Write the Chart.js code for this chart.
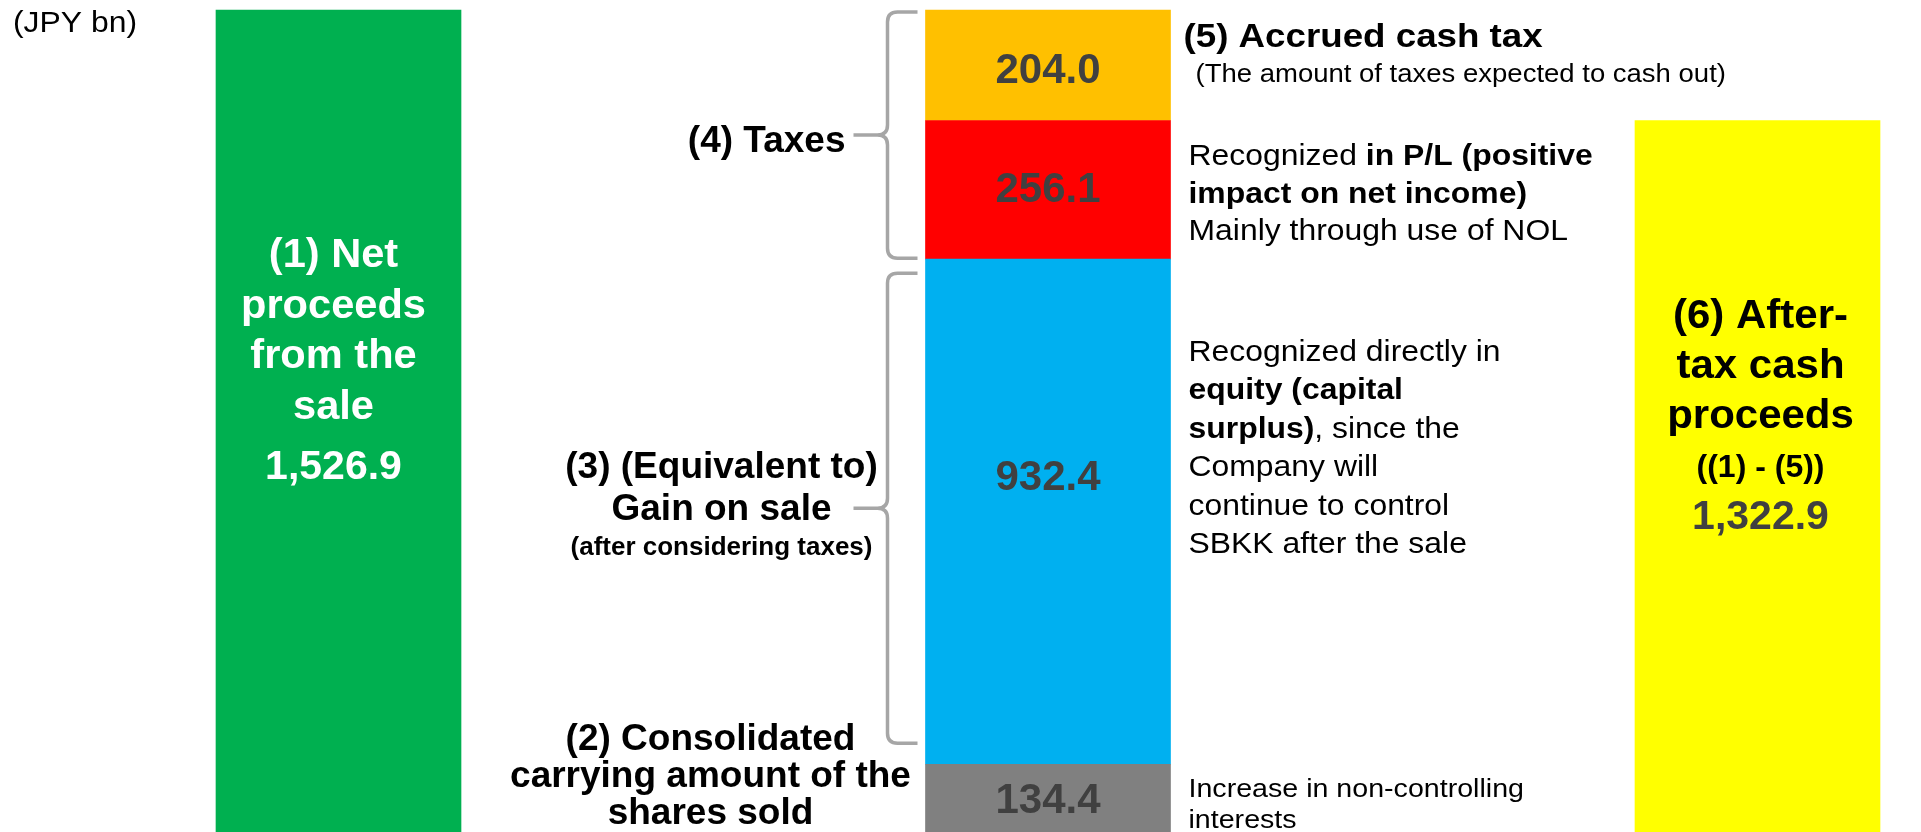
<!DOCTYPE html>
<html lang="en">
<head>
<meta charset="UTF-8">
<title>Net proceeds from the sale and after-tax cash proceeds</title>
<script src="https://cdn.jsdelivr.net/npm/chart.js@4"></script>
<style>
  html, body { margin: 0; padding: 0; background: #fff; overflow: hidden; }
  #wrap { width: 1921px; height: 837px; }
</style>
</head>
<body>
<div id="wrap"><canvas id="chart" width="1921" height="837"></canvas></div>
<script>
// ---------- Data (JPY bn) ----------

const CATEGORIES       = ['Net proceeds', 'Breakdown', 'After-tax cash proceeds'];
const NET_PROCEEDS     = [1526.9, null, null];
const CARRYING_AMOUNT  = [null, 134.4, null];
const GAIN_ON_SALE     = [null, 932.4, null];
const TAX_IN_PL        = [null, 256.1, null];
const ACCRUED_CASH_TAX = [null, 204.0, null];
const AFTER_TAX_CASH   = [null, null, 1322.9];
const UNIT_LABEL = '(JPY bn)';

const COLORS = {
  net:      '#00B050',
  carrying: '#808080',
  gain:     '#00B0F0',
  taxPL:    '#FF0000',
  cashTax:  '#FFC000',
  afterTax: '#FFFF00',
};

const FONT = '"Liberation Sans", Arial, sans-serif';
const DARK = '#404040';
const BRACE = '#A6A6A6';

// ---------- Drawing helpers ----------

function text(ctx, str, x, y, o = {}) {
  ctx.save();
  ctx.translate(x, y);
  ctx.scale(o.sx ?? 1, 1);
  ctx.font = `${o.bold ? 'bold ' : ''}${o.size ?? 29}px ${FONT}`;
  ctx.fillStyle = o.color ?? '#000';
  ctx.textAlign = o.align ?? 'left';
  ctx.textBaseline = 'alphabetic';
  ctx.fillText(str, 0, 0);
  ctx.restore();
}

// runs: [[text, bold], ...] drawn left to right
function richLine(ctx, runs, x, y, size, sx) {
  let cx = x;
  for (const [str, bold] of runs) {
    ctx.font = `${bold ? 'bold ' : ''}${size}px ${FONT}`;
    const w = ctx.measureText(str).width;
    text(ctx, str, cx, y, { size, bold, sx });
    cx += w * sx;
  }
}

function brace(ctx, xArm, xTip, top, bottom) {
  const xv = xArm - 30, mid = (top + bottom) / 2, r = 10;
  ctx.save();
  ctx.strokeStyle = BRACE;
  ctx.lineWidth = 3.5;
  ctx.lineJoin = 'round';
  ctx.beginPath();
  ctx.moveTo(xArm, top);
  ctx.lineTo(xv + r, top);
  ctx.quadraticCurveTo(xv, top, xv, top + r);
  ctx.lineTo(xv, mid - r);
  ctx.quadraticCurveTo(xv, mid, xv - r, mid);
  ctx.lineTo(xTip, mid);
  ctx.moveTo(xv - r, mid);
  ctx.quadraticCurveTo(xv, mid, xv, mid + r);
  ctx.lineTo(xv, bottom - r);
  ctx.quadraticCurveTo(xv, bottom, xv + r, bottom);
  ctx.lineTo(xArm, bottom);
  ctx.stroke();
  ctx.restore();
}

const fmt = v => v.toLocaleString('en-US', { minimumFractionDigits: 1, maximumFractionDigits: 1 });

// ---------- Annotation plugin ----------

const annotations = {
  id: 'annotations',
  afterDraw(chart) {
    const ctx = chart.ctx;
    const bar = (ds, i) => chart.getDatasetMeta(ds).data[i].getProps(['x', 'y', 'base', 'width'], true);
    const green = bar(0, 0), gray = bar(1, 1), blue = bar(2, 1), red = bar(3, 1), orange = bar(4, 1), yellow = bar(5, 2);
    const midL = gray.x - gray.width / 2, midR = gray.x + gray.width / 2;
    const centre = b => (b.y + b.base) / 2;

    text(ctx, UNIT_LABEL, 13, 32, { size: 29, sx: 1.1 });

    // values inside the middle stack
    const valueLabel = (b, v, dy) => text(ctx, fmt(v), b.x, centre(b) + dy, { size: 42, bold: true, color: DARK, align: 'center' });
    valueLabel(orange, ACCRUED_CASH_TAX[1], 17.5);
    valueLabel(red, TAX_IN_PL[1], 12);
    valueLabel(blue, GAIN_ON_SALE[1], -21.5);
    valueLabel(gray, CARRYING_AMOUNT[1], 12.5);

    // (1) green bar
    const gx = green.x - 5;
    ['(1) Net', 'proceeds', 'from the', 'sale'].forEach((s, i) =>
      text(ctx, s, gx, green.y + 257 + i * 50.5, { size: 40, bold: true, color: '#fff', align: 'center', sx: 1.04 }));
    text(ctx, fmt(NET_PROCEEDS[0]), gx, green.y + 469, { size: 41, bold: true, color: '#fff', align: 'center' });

    // (6) yellow bar
    const yx = yellow.x + 3;
    ['(6) After-', 'tax cash', 'proceeds'].forEach((s, i) =>
      text(ctx, s, yx, yellow.y + 207.5 + i * 50, { size: 40, bold: true, align: 'center', sx: 1.05 }));
    text(ctx, '((1) - (5))', yx, yellow.y + 356.5, { size: 32, bold: true, align: 'center' });
    text(ctx, fmt(AFTER_TAX_CASH[2]), yx, yellow.y + 409, { size: 41, bold: true, color: DARK, align: 'center' });

    // right-hand notes
    text(ctx, '(5) Accrued cash tax', midR + 13, orange.y + 37, { size: 34, bold: true, sx: 1.08 });
    text(ctx, '(The amount of taxes expected to cash out)', midR + 25, orange.y + 72, { size: 25, sx: 1.1 });

    const nx = midR + 18, rc = centre(red);
    richLine(ctx, [['Recognized ', false], ['in P/L (positive', true]], nx, rc - 25, 29, 1.1);
    richLine(ctx, [['impact on net income)', true]], nx, rc + 13, 29, 1.1);
    richLine(ctx, [['Mainly through use of NOL', false]], nx, rc + 50, 29, 1.1);

    const blueLines = [
      [['Recognized directly in', false]],
      [['equity (capital', true]],
      [['surplus)', true], [', since the', false]],
      [['Company will', false]],
      [['continue to control', false]],
      [['SBKK after the sale', false]],
    ];
    blueLines.forEach((runs, i) => richLine(ctx, runs, nx, blue.y + 101.5 + i * 38.5, 29, 1.1));

    richLine(ctx, [['Increase in non-controlling', false]], nx, gray.y + 33, 26, 1.1);
    richLine(ctx, [['interests', false]], nx, gray.y + 64, 26, 1.1);

    // left-hand braces and labels
    const xArm = midL - 8, xTip = midL - 72;
    const tTop = orange.y + 2, tBot = red.base - 1, tMid = (tTop + tBot) / 2;
    brace(ctx, xArm, xTip, tTop, tBot);
    text(ctx, '(4) Taxes', xTip - 8, tMid + 17, { size: 37, bold: true, align: 'right' });

    const gTop = blue.y + 14, gBot = blue.base - 21, gMid = (gTop + gBot) / 2;
    brace(ctx, xArm, xTip, gTop, gBot);
    const lx = midL - 204;
    text(ctx, '(3) (Equivalent to)', lx, gMid - 30, { size: 37, bold: true, align: 'center' });
    text(ctx, 'Gain on sale', lx, gMid + 12, { size: 37, bold: true, align: 'center' });
    text(ctx, '(after considering taxes)', lx, gMid + 47, { size: 26, bold: true, align: 'center' });

    const cx = midL - 215;
    ['(2) Consolidated', 'carrying amount of the', 'shares sold'].forEach((s, i) =>
      text(ctx, s, cx, gray.y - 14 + i * 37, { size: 37, bold: true, align: 'center' }));
  },
};

// ---------- Chart ----------

function series(label, data, color) {
  return { label, data, backgroundColor: color, borderWidth: 0, barThickness: 245, clip: false };
}

new Chart(document.getElementById('chart'), {
  type: 'bar',
  data: {
    labels: CATEGORIES,
    datasets: [
      series('(1) Net proceeds from the sale', NET_PROCEEDS, COLORS.net),
      series('(2) Consolidated carrying amount of the shares sold', CARRYING_AMOUNT, COLORS.carrying),
      series('(3) Gain on sale', GAIN_ON_SALE, COLORS.gain),
      series('Taxes recognized in P/L', TAX_IN_PL, COLORS.taxPL),
      series('(5) Accrued cash tax', ACCRUED_CASH_TAX, COLORS.cashTax),
      series('(6) After-tax cash proceeds', AFTER_TAX_CASH, COLORS.afterTax),
    ],
  },
  options: {
    responsive: false,
    devicePixelRatio: 1,
    animation: false,
    layout: { padding: { left: 338.5, right: 163.5, top: 10, bottom: 0 } },
    plugins: { legend: { display: false }, tooltip: { enabled: false }, title: { display: false } },
    scales: {
      x: { stacked: true, offset: false, display: false },
      y: { stacked: true, min: 0, max: 1526.9, display: false },
    },
  },
  plugins: [annotations],
});
</script>
</body>
</html>
